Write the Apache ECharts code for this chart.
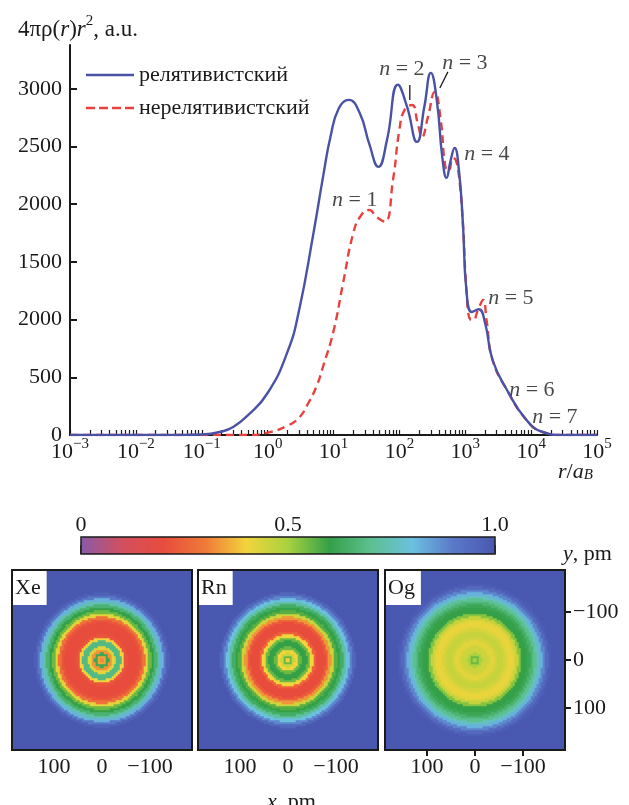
<!DOCTYPE html>
<html>
<head>
<meta charset="utf-8">
<script src="https://cdn.jsdelivr.net/npm/echarts@6/dist/echarts.min.js"></script>
<style>
  html, body { margin: 0; padding: 0; background: #fff; }
  #chart { width: 629px; height: 805px; }
</style>
</head>
<body>
<div id="chart"></div>
<script>
// --- radial density curves, r in Bohr radii ---
var relativistic = [[0.001,0],[0.05,0],[0.1,4],[0.2,30],[0.3,70],[0.5,170],[1,364],[2,720],[3,1080],[5,1760],[7,2250],[9,2584],[12,2830],[17,2904],[25,2790],[35,2520],[48,2324],[65,2560],[95,3035],[130,2850],[185,2540],[240,2850],[300,3138],[370,2900],[450,2400],[520,2228],[600,2380],[690,2488],[800,2300],[920,1838],[1050,1231],[1260,1066],[1600,1090],[2000,971],[2600,650],[4300,390],[8500,130],[15000,26],[30000,0],[100000,0]];
var nonRelativistic = [[0.001,0],[0.5,0],[1,20],[2,80],[3,150],[4,260],[5.5,420],[7,600],[10,900],[14,1318],[20,1751],[26,1900],[35,1950],[45,1890],[60,1850],[80,2210],[100,2644],[120,2818],[155,2860],[190,2700],[220,2583],[270,2750],[345,2974],[420,2750],[500,2324],[560,2290],[650,2400],[720,2380],[800,2250],[920,1838],[1050,1231],[1200,1000],[1320,997],[1550,1080],[1870,1170],[2100,1000],[2600,650],[4300,390],[8500,130],[15000,26],[30000,0],[100000,0]];
var seriesNames = ['релятивистский', 'нерелятивистский'];

var decades = [-3, -2, -1, 0, 1, 2, 3, 4, 5];
var yTicks = [0, 500, 1000, 1500, 2000, 2500, 3000];
var yTickLabels = ['0', '500', '2000', '1500', '2000', '2500', '3000'];

// shell labels: n, r, value
var shellLabels = [['1', 21, 2055], ['2', 109, 3190], ['3', 986, 3242], ['4', 2130, 2453], ['5', 4920, 1205], ['6', 10260, 407], ['7', 22900, 173]];
var leaderLines = [[[144, 3034], [144, 2904]], [[545, 3147], [412, 3008]]];

// --- density maps: value vs radius, one sample every 6.25 pm ---
var elements = ['Xe', 'Rn', 'Og'];
var ringStep = 6.25;
var xeProfile = [0.32,0.35,0.62,0.33,0.42,0.68,0.68,0.40,0.22,0.20,0.20,0.20,0.20,0.22,0.28,0.42,0.55,0.60,0.66,0.74,0.82,0.90,0.97,1.0];
var rnProfile = [0.40,0.55,0.45,0.40,0.55,0.60,0.60,0.55,0.40,0.25,0.20,0.20,0.20,0.24,0.33,0.45,0.57,0.60,0.64,0.72,0.80,0.88,0.95,1.0];
var ogProfile = [0.50,0.55,0.50,0.45,0.45,0.43,0.42,0.44,0.46,0.46,0.44,0.42,0.41,0.42,0.46,0.53,0.60,0.60,0.62,0.66,0.70,0.76,0.82,0.88,0.94,0.98,1.0];
var profiles = [xeProfile, rnProfile, ogProfile];
var mapTicks = [100, 0, -100];
var barTicks = [0, 0.5, 1];
var barColors = ['#8a5aa8','#d24f5e','#e84c3d','#ef7a38','#f2d43c','#a8d240','#34a048','#5cc090','#6cc0e0','#5a78c8','#4a58b0'];

var F = 'Liberation Serif, DejaVu Serif, serif';
var C = '#1a1a1a';
var FS = 22;
var cells = 90;
var half = 187.5;
var cellStep = 2 * half / cells;
var panelLeft = [12, 198, 385], panelTop = 570, panelSize = 180;

function powLabel(e) {
  return '{b|10}{e|' + (e < 0 ? '\u2212' + (-e) : e) + '}';
}
function pm(v) { return v < 0 ? '\u2212' + (-v) : String(v); }
var minorTicks = [];
decades.forEach(function (d) {
  if (d === 5) { minorTicks.push(d); return; }
  for (var m = 1; m < 10; m++) minorTicks.push(d + Math.log10(m));
});

function ringCells(profile) {
  var out = [];
  for (var i = 0; i < cells; i++) {
    for (var j = 0; j < cells; j++) {
      var x = (i - (cells - 1) / 2) * cellStep, y = (j - (cells - 1) / 2) * cellStep;
      var k = Math.round(Math.sqrt(x * x + y * y) / ringStep);
      out.push([i, j, k < profile.length ? profile[k] : 1]);
    }
  }
  return out;
}
var cellCats = [];
for (var c = 0; c < cells; c++) cellCats.push(c);

var richText = {
  b: { fontFamily: F, fontSize: FS, color: C, lineHeight: 26, verticalAlign: 'bottom' },
  e: { fontFamily: F, fontSize: 15, color: C, lineHeight: 13, verticalAlign: 'top' },
  t: { fontFamily: F, fontSize: FS, color: C, fontWeight: 'normal', lineHeight: 26, verticalAlign: 'bottom' },
  i: { fontFamily: F, fontSize: FS, color: C, fontWeight: 'normal', fontStyle: 'italic', lineHeight: 26, verticalAlign: 'bottom' },
  p: { fontFamily: F, fontSize: 15, color: C, fontWeight: 'normal', lineHeight: 13, verticalAlign: 'top' },
  s: { fontFamily: F, fontSize: 15, color: C, fontWeight: 'normal', fontStyle: 'italic', lineHeight: 12, verticalAlign: 'bottom' },
  T: { fontFamily: F, fontSize: 23, color: C, fontWeight: 'normal', lineHeight: 27, verticalAlign: 'bottom' },
  I: { fontFamily: F, fontSize: 23, color: C, fontWeight: 'normal', fontStyle: 'italic', lineHeight: 27, verticalAlign: 'bottom' }
};

var grids = [{ left: 70, right: 32, top: 45, bottom: 370 }];
var xAxes = [
  { type: 'log', gridIndex: 0, min: 0.001, max: 100000, show: false },
  { type: 'value', gridIndex: 0, min: -3, max: 5, position: 'bottom',
    axisLine: { lineStyle: { color: C, width: 2 } },
    axisTick: { inside: true, length: 5, lineStyle: { color: C, width: 1.2 }, customValues: minorTicks },
    axisLabel: { customValues: decades, margin: 2, formatter: powLabel, rich: richText },
    splitLine: { show: false } }
];
var yAxes = [
  { type: 'value', gridIndex: 0, min: 0, max: 3380,
    axisLine: { show: true, onZero: false, lineStyle: { color: C, width: 2 } },
    axisTick: { show: true, inside: true, length: 7, lineStyle: { color: C, width: 2 }, customValues: yTicks },
    axisLabel: { customValues: yTicks, margin: 8, fontFamily: F, fontSize: FS, color: C,
      formatter: function (v) { return yTickLabels[yTicks.indexOf(v)]; } },
    splitLine: { show: false } }
];
var series = [
  { name: seriesNames[0], type: 'line', xAxisIndex: 0, yAxisIndex: 0, data: relativistic,
    smooth: 0.5, showSymbol: false, symbol: 'none',
    lineStyle: { color: '#4a52a6', width: 2.4 }, itemStyle: { color: '#4a52a6' }, z: 3 },
  { name: seriesNames[1], type: 'line', xAxisIndex: 0, yAxisIndex: 0, data: nonRelativistic,
    smooth: 0.5, showSymbol: false, symbol: 'none',
    lineStyle: { color: '#e8413f', width: 2.4, type: [8, 5] }, itemStyle: { color: '#e8413f' }, z: 2 },
  { type: 'scatter', xAxisIndex: 0, yAxisIndex: 0, symbolSize: 0, silent: true,
    data: shellLabels.map(function (s) { return [s[1], s[2], s[0]]; }),
    label: { show: true, position: 'inside', formatter: function (p) { return '{i|n}{t| = ' + p.value[2] + '}'; }, rich: richText } }
];
leaderLines.forEach(function (l) {
  series.push({ type: 'line', xAxisIndex: 0, yAxisIndex: 0, data: l, symbol: 'none', silent: true,
    lineStyle: { color: C, width: 1.3 } });
});

var heatIdx = [];
elements.forEach(function (el, k) {
  var g = grids.length;
  grids.push({ left: panelLeft[k], top: panelTop, width: panelSize, height: panelSize });
  var xc = xAxes.length;
  xAxes.push({ type: 'category', gridIndex: g, data: cellCats, show: false });
  xAxes.push({ type: 'value', gridIndex: g, min: -half, max: half, inverse: true, position: 'bottom',
    axisLine: { show: false },
    axisTick: { customValues: mapTicks, length: 6, lineStyle: { color: C, width: 2 } },
    axisLabel: { customValues: mapTicks, margin: 6, fontFamily: F, fontSize: FS, color: C, formatter: pm },
    splitLine: { show: false } });
  var yc = yAxes.length;
  yAxes.push({ type: 'category', gridIndex: g, data: cellCats, show: false });
  if (k === 2) {
    yAxes.push({ type: 'value', gridIndex: g, min: -half, max: half, inverse: true, position: 'right',
      axisLine: { show: false },
      axisTick: { show: true, customValues: mapTicks, length: 6, lineStyle: { color: C, width: 2 } },
      axisLabel: { customValues: mapTicks, margin: 8, fontFamily: F, fontSize: FS, color: C, formatter: pm },
      splitLine: { show: false } });
  }
  heatIdx.push(series.length);
  series.push({ type: 'heatmap', xAxisIndex: xc, yAxisIndex: yc, data: ringCells(profiles[k]),
    progressive: 0, emphasis: { disabled: true }, silent: true });
});

// colour bar axis
var gb = grids.length;
grids.push({ left: 81, top: 537, width: 414, height: 17 });
xAxes.push({ type: 'value', gridIndex: gb, min: 0, max: 1, position: 'top',
  axisLine: { show: false },
  axisTick: { customValues: barTicks, length: 9, lineStyle: { color: C, width: 1.5 } },
  axisLabel: { customValues: barTicks, margin: 1, fontFamily: F, fontSize: FS, color: C,
    formatter: function (v) { return v === 1 ? '1.0' : String(v); } },
  splitLine: { show: false } });
yAxes.push({ type: 'value', gridIndex: gb, show: false });

var graphics = [{ type: 'rect', shape: { x: 81, y: 537, width: 414, height: 17 }, z: 100,
  style: { fill: null, stroke: C, lineWidth: 1.5 } }];
panelLeft.forEach(function (l) {
  graphics.push({ type: 'rect', shape: { x: l, y: panelTop, width: panelSize, height: panelSize }, z: 100,
    style: { fill: null, stroke: C, lineWidth: 2 } });
});

var dash = 'path://M0,0h9v2.4h-9z M13,0h9v2.4h-9z M26,0h9v2.4h-9z M39,0h9v2.4h-9z';
var solid = 'path://M0,0h48v2.4h-48z';
var titles = [
  { text: '{T|4πρ(}{I|r}{T|)}{I|r}{p|2}{T|, a.u.}', left: 13, top: 9, textStyle: { fontWeight: 'normal', rich: richText } },
  { text: '{i|r}{t|/}{i|a}{s|B}', left: 553, top: 452, textStyle: { fontWeight: 'normal', rich: richText } },
  { text: '{i|y}{t|, pm}', left: 558, top: 534, textStyle: { fontWeight: 'normal', rich: richText } },
  { text: '{i|x}{t|, pm}', left: 262, top: 782, textStyle: { fontWeight: 'normal', rich: richText } }
];
elements.forEach(function (el, k) {
  titles.push({ text: el, left: panelLeft[k] + 1, top: panelTop + 1, backgroundColor: '#fff',
    padding: [6, 6, 6, 2], textStyle: { fontFamily: F, fontSize: FS, fontWeight: 'normal', color: C } });
});

var chart = echarts.init(document.getElementById('chart'));
chart.setOption({
  animation: false,
  backgroundColor: '#fff',
  title: titles,
  legend: { data: [{ name: seriesNames[0], icon: solid }, { name: seriesNames[1], icon: dash }],
    orient: 'vertical', left: 81, top: 59, itemWidth: 48, itemHeight: 2.4, itemGap: 11,
    textStyle: { fontFamily: F, fontSize: FS, color: C } },
  grid: grids,
  xAxis: xAxes,
  yAxis: yAxes,
  visualMap: { type: 'continuous', min: 0, max: 1, orient: 'horizontal', left: 81, top: 537,
    itemWidth: 17, itemHeight: 414, calculable: false, seriesIndex: heatIdx, inRange: { color: barColors },
    text: null, showLabel: false, padding: 0 },
  series: series,
  graphic: graphics
});
</script>
</body>
</html>
